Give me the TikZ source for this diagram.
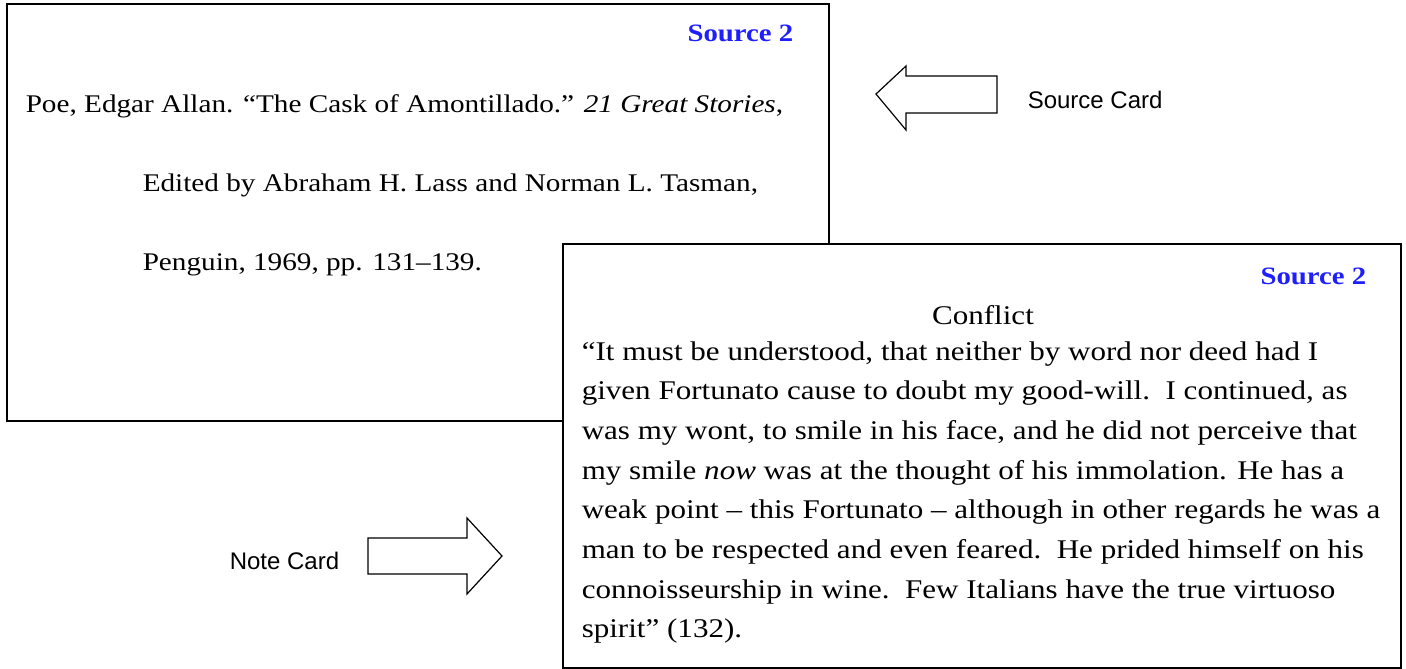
\documentclass[tikz,border=0pt]{standalone}
\usepackage{fontspec}
\newfontfamily\cardfont[FakeStretch=1.15]{Liberation Serif}
\newfontfamily\labelfont{Liberation Sans}
\definecolor{tagblue}{RGB}{30,30,255}

\begin{document}
\begin{tikzpicture}[
    x=1pt, y=-1pt,
    line width=1.5pt,
    card/.style={draw=black, fill=white},
    cardline/.style={anchor=base west, inner sep=0pt, font=\cardfont\fontsize{25.4}{30}\selectfont},
    noteline/.style={anchor=base west, inner sep=0pt, font=\cardfont\fontsize{27}{32}\selectfont},
    srctag/.style={anchor=base east, inner sep=0pt, text=tagblue, font=\cardfont\bfseries\fontsize{25}{30}\selectfont},
    side label/.style={anchor=base west, inner sep=0pt, font=\labelfont\fontsize{24}{28}\selectfont},
    block arrow/.style={draw=black, fill=white, line width=1.2pt, line join=miter}
  ]

    \useasboundingbox (0,0) rectangle (1406,669);

    % 1. Source card
    \draw[card] (7,4) rectangle (829,421);
    \node[srctag] (srctag) at (794,42) {Source 2};
    \node[cardline] (cite1) at (25,112) {Poe, Edgar Allan. “The Cask of Amontillado.” \textit{21 Great Stories},};
    \node[cardline] (cite2) at (142,191) {Edited by Abraham H. Lass and Norman L. Tasman,};
    \node[cardline] (cite3) at (142,270) {Penguin, 1969, pp. 131–139.};

    % 2. Note card (on top)
    \draw[card] (563,244) rectangle (1401,668);
    \node[srctag] (notetag) at (1367,284) {Source 2};
    \node[noteline, anchor=base] (topic) at (983,324) {Conflict};
    \foreach \txt [count=\i] in {
        {“It must be understood, that neither by word nor deed had I},
        {given Fortunato cause to doubt my good-will.\ \ I continued, as},
        {was my wont, to smile in his face, and he did not perceive that},
        {my smile \textit{now} was at the thought of his immolation. He has a},
        {weak point – this Fortunato – although in other regards he was a},
        {man to be respected and even feared.\ \ He prided himself on his},
        {connoisseurship in wine.\ \ Few Italians have the true virtuoso},
        {spirit” (132).}} {
        \node[noteline] (quote\i) at (581,320.3+39.7*\i) {\txt};
    }

    % 3. Arrows
    \coordinate (srcTip) at (876,94);
    \coordinate (srcEnd) at (997,94);
    \draw[block arrow] (srcTip) -- (906,66) -- (906,76) -- (997,76)
        -- (997,113) -- (906,113) -- (906,130) -- cycle;

    \coordinate (noteTip) at (502,556);
    \coordinate (noteEnd) at (368,556);
    \draw[block arrow] (noteTip) -- (467,518) -- (467,538) -- (368,538)
        -- (368,574) -- (467,574) -- (467,594) -- cycle;

    % 4. Labels
    \node[side label] (srclabel) at (1027,108) {Source Card};
    \node[side label] (notelabel) at (229,569) {Note Card};

  \end{tikzpicture}
\end{document}
